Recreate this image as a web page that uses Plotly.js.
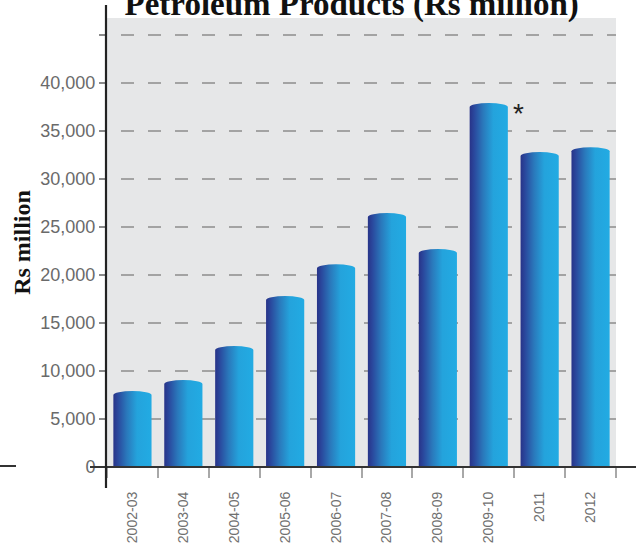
<!DOCTYPE html>
<html>
<head>
<meta charset="utf-8">
<script src="https://cdn.plot.ly/plotly-3.0.1.min.js"></script>
<style>html,body{margin:0;padding:0;background:#fff;}#chart{width:636px;height:549px;}</style>
</head>
<body>
<div id="chart"></div>
<script>
const categories = ['2002-03','2003-04','2004-05','2005-06','2006-07','2007-08','2008-09','2009-10','2011','2012'];
const values = [7700, 8850, 12400, 17600, 20900, 26250, 22500, 37700, 32600, 33100];
const yTickVals = [0, 5000, 10000, 15000, 20000, 25000, 30000, 35000, 40000, 45000];
const yTickText = ['0', '5,000', '10,000', '15,000', '20,000', '25,000', '30,000', '35,000', '40,000', ''];
const noteCategory = '2009-10';
const noteText = '*';

const L = 107, R = 20, T = 18, B = 82;
const W = 636 - L - R, H = 549 - T - B;

const trace = {
  type: 'bar',
  x: categories,
  y: values,
  width: 0.75,
  marker: {color: '#24a5de', line: {width: 0}},
  hoverinfo: 'x+y'
};

const layout = {
  width: 636, height: 549,
  margin: {l: L, r: R, t: T, b: B, pad: 0},
  paper_bgcolor: '#ffffff',
  plot_bgcolor: '#e6e7e8',
  showlegend: false,
  title: {
    text: '<b>Petroleum Products (Rs million)</b>',
    x: 0.553, xanchor: 'center',
    y: 0.993, yanchor: 'middle', yref: 'container',
    font: {family: 'Liberation Serif, DejaVu Serif, serif', size: 33, color: '#111'}
  },
  xaxis: {
    type: 'category',
    range: [-0.5, 9.5],
    showgrid: false, zeroline: false, showline: false,
    ticks: 'outside', tickson: 'boundaries', ticklen: 10, tickwidth: 2, tickcolor: '#a8a8a8',
    tickangle: -90,
    ticklabelstandoff: 21,
    tickfont: {family: 'Liberation Sans Narrow, Arial Narrow, Liberation Sans, sans-serif', size: 14, color: '#707070'}
  },
  yaxis: {
    range: [0, 46770],
    tickmode: 'array', tickvals: yTickVals, ticktext: yTickText,
    showgrid: true, gridcolor: '#a3a3a3', gridwidth: 1.5, griddash: '0px,14px,13px,0px',
    zeroline: false, showline: false,
    ticks: 'outside', ticklen: 7, tickwidth: 1.5, tickcolor: '#8a8a8a',
    tickfont: {family: 'Liberation Sans, Arial, sans-serif', size: 18, color: '#6a6a6a'},
    title: {
      text: '<b>Rs million</b>', standoff: 2,
      font: {family: 'Liberation Serif, DejaVu Serif, serif', size: 24, color: '#111'}
    }
  },
  shapes: [
    {type: 'line', xref: 'paper', yref: 'paper', x0: (90 - L) / W, x1: (636 - L) / W, y0: 0, y1: 0,
     line: {color: '#333', width: 2.2}},
    {type: 'line', xref: 'paper', yref: 'paper', x0: -1 / W, x1: -1 / W, y0: -21 / H, y1: (H + 13) / H,
     line: {color: '#222', width: 2.2}},
    {type: 'line', xref: 'paper', yref: 'paper', x0: -L / W, x1: (16 - L) / W, y0: 1 / H, y1: 1 / H,
     line: {color: '#333', width: 2}}
  ],
  annotations: [
    {x: noteCategory, y: values[categories.indexOf(noteCategory)], xref: 'x', yref: 'y',
     text: noteText, showarrow: false, xanchor: 'left', yanchor: 'middle', xshift: 22, yshift: -8,
     font: {family: 'Liberation Sans, Arial, sans-serif', size: 28, color: '#222'}}
  ]
};

Plotly.newPlot('chart', [trace], layout, {displayModeBar: false, staticPlot: true}).then(function () {
  const NS = 'http://www.w3.org/2000/svg';
  const svg = document.querySelector('#chart .main-svg');
  let defs = svg.querySelector('defs');
  if (!defs) { defs = document.createElementNS(NS, 'defs'); svg.insertBefore(defs, svg.firstChild); }
  const g = document.createElementNS(NS, 'linearGradient');
  g.setAttribute('id', 'barGrad');
  g.setAttribute('x1', '0'); g.setAttribute('y1', '0'); g.setAttribute('x2', '1'); g.setAttribute('y2', '0');
  [['0', '#283388'], ['0.12', '#2a489d'], ['0.35', '#2a78bb'], ['0.62', '#24a3dc'], ['1', '#22abe3']].forEach(function (s) {
    const st = document.createElementNS(NS, 'stop');
    st.setAttribute('offset', s[0]); st.setAttribute('stop-color', s[1]);
    g.appendChild(st);
  });
  defs.appendChild(g);
  document.querySelectorAll('#chart .bars .point path').forEach(function (p) {
    const d = p.getAttribute('d');
    const m = d.match(/M([\d.\-]+),([\d.\-]+)V([\d.\-]+)H([\d.\-]+)V([\d.\-]+)Z/);
    if (m) {
      const x0 = +m[1], yb = +m[2], yt = +m[3], x1 = +m[4];
      const rx = Math.abs(x1 - x0) / 2, ry = 4;
      const ys = yt + 2;
      p.setAttribute('d', 'M' + x0 + ',' + yb + 'V' + ys + 'A' + rx + ',' + ry + ' 0 0 1 ' + x1 + ',' + ys + 'V' + yb + 'Z');
    }
    p.style.fill = 'url(#barGrad)';
    p.style.fillOpacity = 1;
  });
});
</script>
</body>
</html>
